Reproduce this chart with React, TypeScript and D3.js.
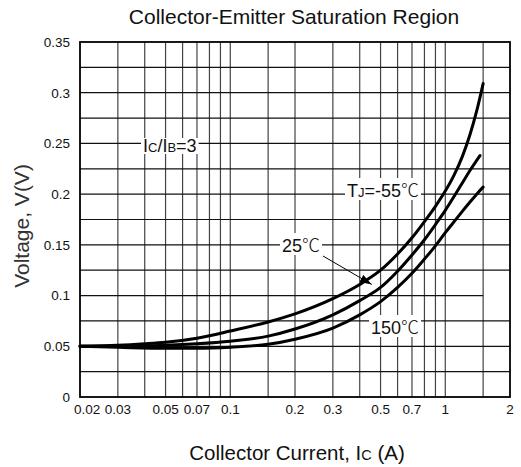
import React, { useLayoutEffect, useRef, useState } from "react";
import * as d3 from "d3";

// ---- data ----
const xTickLabels = [0.02, 0.03, 0.05, 0.07, 0.1, 0.2, 0.3, 0.5, 0.7, 1, 2];
const xGridValues = [0.03, 0.04, 0.05, 0.06, 0.07, 0.08, 0.09, 0.1, 0.15, 0.2, 0.3, 0.4, 0.5, 0.6, 0.7, 0.8, 0.9, 1, 1.5];
const yTickLabels = [0, 0.05, 0.1, 0.15, 0.2, 0.25, 0.3, 0.35];
const yGridValues = [0.025, 0.05, 0.075, 0.1, 0.125, 0.15, 0.175, 0.2, 0.225, 0.25, 0.275, 0.3, 0.325];

// Tj = -55°C
const currentM55 = [0.02, 0.03, 0.04, 0.05, 0.07, 0.1, 0.15, 0.2, 0.3, 0.4, 0.5, 0.6, 0.7, 0.8, 0.9, 1.0, 1.1, 1.2, 1.3, 1.4, 1.5];
const voltageM55 = [0.05, 0.051, 0.0525, 0.054, 0.058, 0.065, 0.074, 0.082, 0.097, 0.111, 0.125, 0.141, 0.157, 0.173, 0.188, 0.203, 0.219, 0.237, 0.258, 0.282, 0.309];
// Tj = 25°C
const current25 = [0.02, 0.03, 0.05, 0.07, 0.1, 0.15, 0.2, 0.3, 0.4, 0.5, 0.6, 0.7, 0.8, 0.9, 1.0, 1.1, 1.2, 1.3, 1.45];
const voltage25 = [0.05, 0.05, 0.051, 0.0525, 0.055, 0.06, 0.067, 0.081, 0.095, 0.108, 0.124, 0.14, 0.155, 0.17, 0.184, 0.198, 0.211, 0.223, 0.238];
// Tj = 150°C
const current150 = [0.02, 0.03, 0.05, 0.07, 0.1, 0.15, 0.2, 0.3, 0.4, 0.5, 0.6, 0.7, 0.8, 0.9, 1.0, 1.1, 1.2, 1.3, 1.4, 1.5];
const voltage150 = [0.05, 0.049, 0.048, 0.048, 0.049, 0.052, 0.057, 0.068, 0.081, 0.094, 0.108, 0.122, 0.136, 0.149, 0.162, 0.173, 0.183, 0.192, 0.2, 0.207];

const title = "Collector-Emitter Saturation Region";

const W = 521;
const H = 467;
const left = 80;
const right = 510;
const top = 42;
const bottom = 397;

const FONT = "'Liberation Sans', Arial, Helvetica, sans-serif";
const CJK = "'Noto Sans CJK JP', 'Noto Sans CJK SC', sans-serif";

const x = d3.scaleLog().domain([0.02, 2]).range([left, right]);
const y = d3.scaleLinear().domain([0, 0.35]).range([bottom, top]);

const line = d3
  .line<[number, number]>()
  .x((d) => x(d[0]))
  .y((d) => y(d[1]))
  .curve(d3.curveMonotoneX);

const series = [
  { current: currentM55, voltage: voltageM55 },
  { current: current25, voltage: voltage25 },
  { current: current150, voltage: voltage150 },
];

function Boxed({ children, tx, ty, size }: { children: React.ReactNode; tx: number; ty: number; size: number }) {
  const ref = useRef<SVGTextElement>(null);
  const [box, setBox] = useState<{ x: number; y: number; w: number; h: number } | null>(null);
  useLayoutEffect(() => {
    if (ref.current) {
      const b = ref.current.getBBox();
      setBox({ x: b.x, y: b.y, w: b.width, h: b.height });
    }
  }, []);
  return (
    <g>
      {box && <rect x={box.x - 2} y={box.y + 2} width={box.w + 4} height={box.h - 4} fill="#fff" />}
      <text ref={ref} x={tx} y={ty} fontSize={size} fontFamily={FONT} fill="#111">
        {children}
      </text>
    </g>
  );
}

export default function App() {
  const arrowTail: [number, number] = [0.27, 0.139];
  const arrowTip: [number, number] = [0.455, 0.111];
  return (
    <svg
      width={W}
      height={H}
      viewBox={`0 0 ${W} ${H}`}
      style={{ position: "absolute", left: 0, top: 0, background: "#fff" }}
    >
      <defs>
        <marker id="ah" viewBox="0 0 12 8" refX="12" refY="4" markerWidth="12" markerHeight="8" markerUnits="userSpaceOnUse" orient="auto">
          <path d="M0,0 L12,4 L0,8 Z" fill="#000" />
        </marker>
      </defs>
      <rect x={0} y={0} width={W} height={H} fill="#fff" />

      {/* grid */}
      {xGridValues.map((v) => (
        <line key={"vx" + v} x1={x(v)} x2={x(v)} y1={top} y2={bottom} stroke="#444" strokeWidth={1.2} />
      ))}
      {yGridValues.map((v) => (
        <line
          key={"hy" + v}
          x1={left}
          x2={v === 0.1 ? x(1.5) : right}
          y1={y(v)}
          y2={y(v)}
          stroke="#111"
          strokeWidth={1.2}
        />
      ))}
      <rect x={left} y={top} width={right - left} height={bottom - top} fill="none" stroke="#000" strokeWidth={1.8} />

      {/* title */}
      <text x={294} y={24} textAnchor="middle" fontSize={21} fontFamily={FONT} fill="#111">
        {title}
      </text>

      {/* y tick labels */}
      {yTickLabels.map((v) => (
        <text key={"yt" + v} x={left - 10} y={y(v)} dy="0.36em" textAnchor="end" fontSize={13.5} fontFamily={FONT} fill="#111">
          {v === 0 ? "0" : String(v)}
        </text>
      ))}
      {/* x tick labels */}
      {xTickLabels.map((v, i) => (
        <text
          key={"xt" + v}
          x={i === 0 ? x(v) - 6 : x(v)}
          y={414}
          textAnchor={i === 0 ? "start" : "middle"}
          fontSize={13.5}
          fontFamily={FONT}
          fill="#111"
        >
          {String(v)}
        </text>
      ))}

      {/* axis titles */}
      <text x={297} y={460} textAnchor="middle" fontSize={20.5} fontFamily={FONT} fill="#111">
        Collector Current, I<tspan fontSize={14.5}>C</tspan> (A)
      </text>
      <text
        transform={`translate(29,226) rotate(-90)`}
        textAnchor="middle"
        fontSize={21}
        fontFamily={FONT}
        fill="#333"
      >
        Voltage, V(V)
      </text>

      {/* curves */}
      {series.map((s, i) => (
        <path
          key={"s" + i}
          d={line(s.current.map((c, k) => [c, s.voltage[k]] as [number, number])) || ""}
          fill="none"
          stroke="#000"
          strokeWidth={3}
          strokeLinecap="round"
        />
      ))}

      {/* annotations */}
      <Boxed tx={143} ty={152} size={18}>
        I<tspan fontSize={13}>C</tspan>/I<tspan fontSize={13}>B</tspan>=3
      </Boxed>
      <Boxed tx={347} ty={197} size={18}>
        T<tspan fontSize={13}>J</tspan>=-55<tspan fontFamily={CJK} fontWeight={300}>℃</tspan>
      </Boxed>
      <Boxed tx={282} ty={252} size={18}>
        25<tspan fontFamily={CJK} fontWeight={300}>℃</tspan>
      </Boxed>
      <Boxed tx={371} ty={334} size={18}>
        150<tspan fontFamily={CJK} fontWeight={300}>℃</tspan>
      </Boxed>
      <line
        x1={x(arrowTail[0])}
        y1={y(arrowTail[1])}
        x2={x(arrowTip[0])}
        y2={y(arrowTip[1])}
        stroke="#000"
        strokeWidth={1}
        markerEnd="url(#ah)"
      />
    </svg>
  );
}
